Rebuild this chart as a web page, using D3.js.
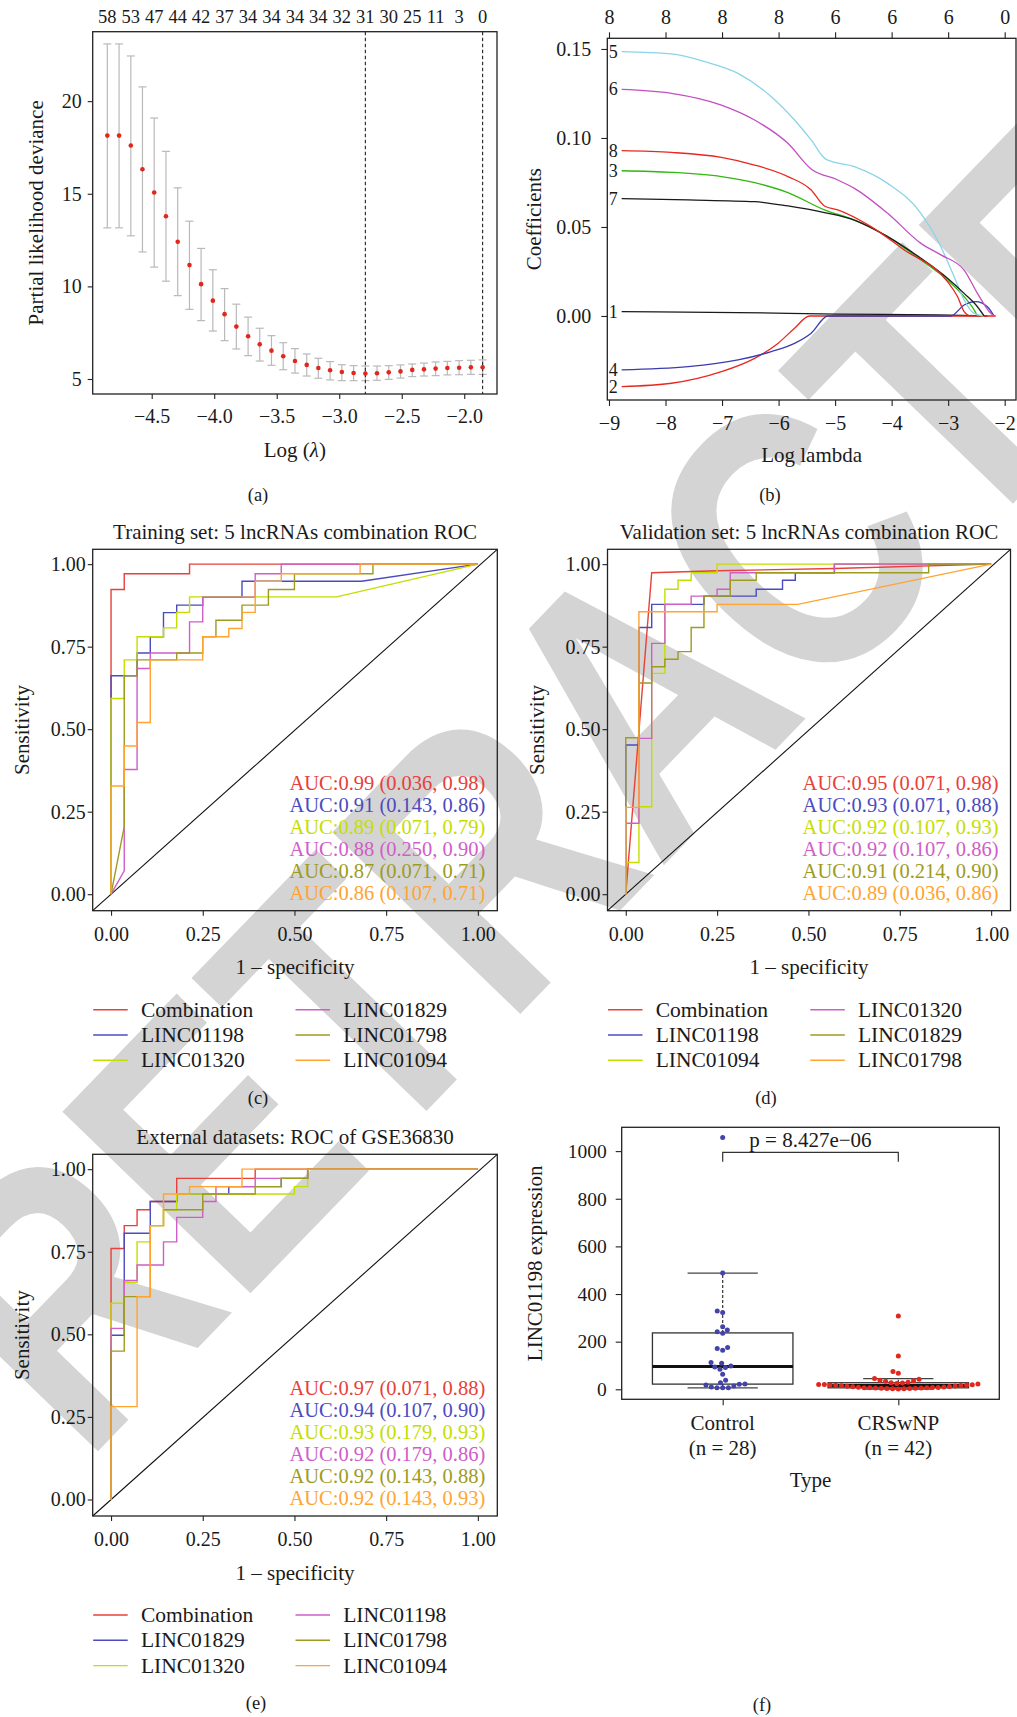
<!DOCTYPE html>
<html>
<head>
<meta charset="utf-8">
<script src="https://cdn.jsdelivr.net/npm/d3@7"></script>
<style>
body { margin: 0; background: #fff; }
text { font-family: "Liberation Serif", "Times New Roman", serif; }
</style>
</head>
<body>
<svg id="fig" width="1017" height="1717"></svg>
<script>
// ---------- (a) cross-validation curve
var cvLogLambda = [-4.855,-4.761,-4.667,-4.574,-4.480,-4.386,-4.292,-4.198,-4.105,-4.011,-3.917,-3.823,-3.729,-3.636,-3.542,-3.448,-3.354,-3.260,-3.167,-3.073,-2.979,-2.885,-2.791,-2.698,-2.604,-2.510,-2.416,-2.322,-2.229,-2.135,-2.041,-1.947,-1.853];
var cvMean  = [18.14,18.14,17.61,16.32,15.07,13.79,12.41,11.15,10.12,9.23,8.50,7.83,7.31,6.87,6.53,6.23,5.97,5.76,5.59,5.47,5.38,5.32,5.30,5.31,5.36,5.41,5.49,5.52,5.56,5.59,5.61,5.63,5.63];
var cvUpper = [23.09,23.09,22.44,20.77,19.09,17.29,15.32,13.52,12.05,10.90,9.88,9.04,8.34,7.74,7.34,6.96,6.64,6.35,6.12,5.94,5.77,5.72,5.70,5.70,5.72,5.76,5.81,5.86,5.92,5.95,5.99,6.01,6.03];
var cvLower = [13.16,13.16,12.73,11.86,11.04,10.28,9.50,8.76,8.15,7.59,7.07,6.62,6.26,5.97,5.74,5.50,5.32,5.16,5.04,4.95,4.91,4.91,4.91,4.93,4.98,5.05,5.13,5.16,5.18,5.22,5.23,5.25,5.25];
var cvNonzero = [58,53,47,44,42,37,34,34,34,34,32,31,30,25,11,3,0]; // every second lambda
var lambdaMin = -2.791, lambda1se = -1.853;

// ---------- (b) lasso coefficient paths  [log lambda, coefficient]
var path1 = [[-8.776,0.0024],[-6.718,0.0019],[-4.953,0.0011],[-3.188,0.0006],[-2.306,0]];
var path2 = [[-8.776,-0.0397],[-7.894,-0.0378],[-7.012,-0.0313],[-6.424,-0.0238],[-6.012,-0.0154],[-5.718,-0.0069],[-5.453,0],[-2.159,0]];
var path3 = [[-8.776,0.0816],[-7.894,0.0807],[-7.012,0.0783],[-6.424,0.0749],[-5.835,0.0693],[-5.188,0.0596],[-4.659,0.0539],[-4.071,0.0446],[-3.482,0.0315],[-3.012,0.0202],[-2.718,0.0109],[-2.541,0.0034],[-2.482,0]];
var path4 = [[-8.776,-0.0303],[-7.6,-0.0285],[-6.718,-0.0247],[-6.129,-0.0200],[-5.718,-0.0154],[-5.424,-0.0097],[-5.129,0],[-2.953,0],[-2.718,0.0062],[-2.512,0.0081],[-2.306,0.0052],[-2.188,0]];
var path5 = [[-8.776,0.1485],[-7.894,0.1472],[-7.306,0.1429],[-6.718,0.1363],[-6.129,0.1232],[-5.718,0.1101],[-5.424,0.0989],[-5.159,0.0880],[-4.659,0.0839],[-4.071,0.0745],[-3.482,0.0577],[-3.188,0.0427],[-2.894,0.0221],[-2.718,0.0090],[-2.541,0.0015],[-2.365,0]];
var path6 = [[-8.776,0.1273],[-7.894,0.1251],[-7.012,0.1185],[-6.424,0.1101],[-5.835,0.0970],[-5.424,0.0826],[-4.953,0.0764],[-4.659,0.0717],[-4.071,0.0577],[-3.482,0.0408],[-3.129,0.0343],[-2.718,0.0258],[-2.482,0.0127],[-2.247,0.0015],[-2.188,0]];
var path7 = [[-8.776,0.0659],[-7.6,0.0652],[-6.424,0.0642],[-5.835,0.0618],[-5.188,0.0581],[-4.659,0.0539],[-4.071,0.0446],[-3.482,0.0324],[-3.012,0.0212],[-2.718,0.0127],[-2.482,0.0052],[-2.365,0]];
var path8 = [[-8.776,0.0929],[-7.894,0.0919],[-7.012,0.0891],[-6.424,0.0848],[-5.835,0.0783],[-5.424,0.0708],[-5.188,0.0618],[-4.953,0.0596],[-4.365,0.0502],[-3.776,0.0371],[-3.012,0.0193],[-2.835,0.0109],[-2.718,0.0024],[-2.629,0]];
var coefPaths = [path1, path2, path3, path4, path5, path6, path7, path8];
var coefNames = ["1","2","3","4","5","6","7","8"];
var coefColors = ["#1a1a1a","#e8281e","#2fb80f","#3b3bb0","#8ad4e8","#c24fc0","#1a1a1a","#e8281e"];
var bTopLabels = ["8","8","8","8","6","6","6","0"];

// ---------- ROC panels  [1 - specificity, sensitivity]
var rocColors = ["#e8403a","#4b4bbf","#c4de00","#d05ec8","#9e9b1e","#ffa431"];

var trainNames = ["Combination","LINC01198","LINC01320","LINC01829","LINC01798","LINC01094"];
var trainAuc = ["AUC:0.99 (0.036, 0.98)","AUC:0.91 (0.143, 0.86)","AUC:0.89 (0.071, 0.79)","AUC:0.88 (0.250, 0.90)","AUC:0.87 (0.071, 0.71)","AUC:0.86 (0.107, 0.71)"];
var trainRoc = [
  [[0,0],[0,0.923],[0.036,0.923],[0.036,0.971],[0.214,0.971],[0.214,1],[1,1]],
  [[0,0],[0,0.662],[0.071,0.662],[0.071,0.731],[0.107,0.731],[0.107,0.78],[0.143,0.78],[0.143,0.853],[0.179,0.853],[0.179,0.876],[0.25,0.876],[0.25,0.9],[0.357,0.9],[0.357,0.948],[0.683,0.948],[1,1]],
  [[0,0],[0,0.593],[0.036,0.593],[0.036,0.71],[0.071,0.71],[0.071,0.78],[0.143,0.78],[0.143,0.807],[0.179,0.807],[0.179,0.854],[0.214,0.854],[0.214,0.901],[0.615,0.901],[1,1]],
  [[0,0],[0.036,0.071],[0.036,0.378],[0.071,0.378],[0.071,0.684],[0.107,0.684],[0.107,0.731],[0.214,0.731],[0.214,0.825],[0.25,0.825],[0.25,0.9],[0.393,0.9],[0.393,0.971],[0.464,0.971],[0.464,1],[1,1]],
  [[0,0],[0.036,0.205],[0.036,0.662],[0.071,0.662],[0.071,0.71],[0.179,0.71],[0.179,0.731],[0.25,0.731],[0.25,0.78],[0.286,0.78],[0.286,0.83],[0.357,0.83],[0.357,0.876],[0.429,0.876],[0.429,0.923],[0.5,0.923],[0.5,0.971],[0.714,0.971],[0.714,1],[1,1]],
  [[0,0],[0,0.328],[0.036,0.328],[0.036,0.449],[0.071,0.449],[0.071,0.52],[0.107,0.52],[0.107,0.71],[0.25,0.71],[0.25,0.78],[0.321,0.78],[0.321,0.805],[0.357,0.805],[0.357,0.854],[0.393,0.854],[0.393,0.948],[0.464,0.948],[0.464,0.971],[0.679,0.971],[0.679,1],[1,1]]
];

var validNames = ["Combination","LINC01198","LINC01094","LINC01320","LINC01829","LINC01798"];
var validAuc = ["AUC:0.95 (0.071, 0.98)","AUC:0.93 (0.071, 0.88)","AUC:0.92 (0.107, 0.93)","AUC:0.92 (0.107, 0.86)","AUC:0.91 (0.214, 0.90)","AUC:0.89 (0.036, 0.86)"];
var validRoc = [
  [[0,0],[0.071,0.974],[0.25,0.98],[0.571,0.987],[1,1]],
  [[0,0],[0,0.452],[0.036,0.452],[0.036,0.808],[0.071,0.808],[0.071,0.878],[0.214,0.878],[0.214,0.903],[0.357,0.903],[0.357,0.924],[0.429,0.924],[0.429,0.951],[0.464,0.951],[0.464,0.974],[0.571,0.974],[0.571,1],[1,1]],
  [[0,0],[0,0.096],[0.036,0.096],[0.036,0.265],[0.071,0.265],[0.071,0.669],[0.107,0.669],[0.107,0.924],[0.143,0.924],[0.143,0.951],[0.179,0.951],[0.179,0.974],[0.25,0.974],[0.25,1],[1,1]],
  [[0,0],[0,0.215],[0.036,0.215],[0.036,0.472],[0.071,0.472],[0.071,0.76],[0.107,0.76],[0.107,0.878],[0.179,0.878],[0.179,0.903],[0.25,0.903],[0.25,0.924],[0.286,0.924],[0.286,0.974],[0.571,0.974],[0.571,1],[1,1]],
  [[0,0],[0,0.474],[0.036,0.474],[0.036,0.64],[0.071,0.64],[0.071,0.689],[0.107,0.689],[0.107,0.712],[0.143,0.712],[0.143,0.735],[0.179,0.735],[0.179,0.808],[0.214,0.808],[0.214,0.903],[0.286,0.903],[0.286,0.951],[0.357,0.951],[0.357,0.974],[0.829,0.974],[0.829,1],[1,1]],
  [[0,0],[0,0.263],[0.036,0.263],[0.036,0.856],[0.25,0.856],[0.25,0.878],[0.471,0.878],[1,1]]
];

var extNames = ["Combination","LINC01829","LINC01320","LINC01198","LINC01798","LINC01094"];
var extAuc = ["AUC:0.97 (0.071, 0.88)","AUC:0.94 (0.107, 0.90)","AUC:0.93 (0.179, 0.93)","AUC:0.92 (0.179, 0.86)","AUC:0.92 (0.143, 0.88)","AUC:0.92 (0.143, 0.93)"];
var extRoc = [
  [[0,0],[0,0.76],[0.036,0.76],[0.036,0.829],[0.071,0.829],[0.071,0.877],[0.107,0.877],[0.107,0.902],[0.179,0.902],[0.179,0.972],[0.393,0.972],[0.393,1],[1,1]],
  [[0,0],[0,0.497],[0.036,0.497],[0.036,0.806],[0.107,0.806],[0.107,0.902],[0.179,0.902],[0.179,0.925],[0.321,0.925],[0.321,0.947],[0.464,0.947],[0.464,0.972],[0.536,0.972],[0.536,1],[1,1]],
  [[0,0],[0,0.594],[0.036,0.594],[0.036,0.657],[0.071,0.657],[0.071,0.78],[0.107,0.78],[0.107,0.829],[0.143,0.829],[0.143,0.877],[0.179,0.877],[0.179,0.925],[0.5,0.925],[0.5,0.947],[0.536,0.947],[0.536,1],[1,1]],
  [[0,0],[0,0.518],[0.036,0.518],[0.036,0.663],[0.071,0.663],[0.071,0.71],[0.143,0.71],[0.143,0.78],[0.179,0.78],[0.179,0.854],[0.25,0.854],[0.25,0.902],[0.286,0.902],[0.286,0.947],[0.393,0.947],[0.393,0.972],[0.536,0.972],[0.536,1],[1,1]],
  [[0,0],[0,0.449],[0.036,0.449],[0.036,0.614],[0.107,0.614],[0.107,0.829],[0.143,0.829],[0.143,0.877],[0.25,0.877],[0.25,0.925],[0.393,0.925],[0.393,0.947],[0.464,0.947],[0.464,0.972],[0.536,0.972],[0.536,1],[1,1]],
  [[0,0],[0,0.281],[0.071,0.281],[0.071,0.614],[0.107,0.614],[0.107,0.829],[0.143,0.829],[0.143,0.925],[0.214,0.925],[0.214,0.947],[0.357,0.947],[0.357,1],[1,1]]
];
var rocTicks = [0, 0.25, 0.5, 0.75, 1];

// ---------- (f) expression
var groups = ["Control","CRSwNP"];
var groupN = ["(n = 28)","(n = 42)"];
var controlExpr = [1057,488,329,322,263,249,242,235,176,171,164,112,109,98,94,91,84,63,38,28,22,21,18,14,10,7,7,6];
var crswnpExpr = [308,140,75,67,45,42,38,36,34,30,28,26,24,22,20,20,19,18,18,17,16,15,14,13,12,11,10,9,8,8,7,6,6,5,5,4,4,3,3,2,2,1];
var groupColors = ["#4444a8","#e0281e"];
var pLabel = "p = 8.427e\u221206";

var svg = d3.select("#fig");
var FS = 20;     // tick labels
var TS = 21;     // titles

// watermark behind everything
svg.append("text")
    .attr("transform", "translate(640,700) rotate(-46) scale(0.8,1)")
    .attr("text-anchor", "middle")
    .attr("dominant-baseline", "central")
    .style("font-family", "Liberation Sans, Arial, sans-serif")
    .style("font-weight", "bold")
    .style("font-size", "380px")
    .style("fill", "#d4d4d4")
    .text("RETRACTED");

function styleAxis(g, size) {
    g.select(".domain").remove();
    g.attr("font-family", null).attr("font-size", null);
    g.selectAll(".tick line").attr("stroke", "#222").attr("stroke-width", 1.1);
    g.selectAll(".tick text").attr("fill", "#1a1a1a")
        .style("font-size", size + "px");
}

function frame(g, o) {
    g.append("rect").attr("x", o.l).attr("y", o.t)
        .attr("width", o.r - o.l).attr("height", o.b - o.t)
        .attr("fill", "none").attr("stroke", "#222").attr("stroke-width", 1.3);
}

function label(x, y, txt, size, rot) {
    var t = svg.append("text")
        .attr("text-anchor", "middle")
        .attr("dominant-baseline", "central")
        .style("font-size", (size || TS) + "px")
        .attr("fill", "#1a1a1a");
    if (rot) t.attr("transform", `translate(${x},${y}) rotate(-90)`);
    else t.attr("x", x).attr("y", y);
    t.text(txt);
    return t;
}

// ================= (a)
var A = {l: 92.7, r: 497, t: 31.7, b: 394};
var ax = d3.scaleLinear().domain([-4.972, -1.738]).range([A.l, A.r]);
var ay = d3.scaleLinear().domain([4.19, 23.75]).range([A.b, A.t]);
var pa = svg.append("g");

pa.append("g").attr("transform", `translate(0,${A.b})`)
    .call(d3.axisBottom(ax).tickValues([-4.5, -4, -3.5, -3, -2.5, -2])
        .tickFormat(d3.format(".1f")).tickSize(5).tickPadding(10))
    .call(styleAxis, FS);
pa.append("g").attr("transform", `translate(${A.l},0)`)
    .call(d3.axisLeft(ay).tickValues([5, 10, 15, 20]).tickSize(5).tickPadding(6))
    .call(styleAxis, FS);

pa.selectAll("line.err").data(cvLogLambda).enter().append("line")
    .attr("x1", d => ax(d)).attr("x2", d => ax(d))
    .attr("y1", (d, i) => ay(cvLower[i])).attr("y2", (d, i) => ay(cvUpper[i]))
    .attr("stroke", "#b9b9b9").attr("stroke-width", 1.2);
[cvLower, cvUpper].forEach(function(arr) {
    pa.selectAll(null).data(cvLogLambda).enter().append("line")
        .attr("x1", d => ax(d) - 4).attr("x2", d => ax(d) + 4)
        .attr("y1", (d, i) => ay(arr[i])).attr("y2", (d, i) => ay(arr[i]))
        .attr("stroke", "#b9b9b9").attr("stroke-width", 1.2);
});
[lambdaMin, lambda1se].forEach(function(v) {
    pa.append("line").attr("x1", ax(v)).attr("x2", ax(v))
        .attr("y1", A.t).attr("y2", A.b)
        .attr("stroke", "#222").attr("stroke-width", 1.1).attr("stroke-dasharray", "3.5,2.5");
});
pa.selectAll("circle").data(cvLogLambda).enter().append("circle")
    .attr("cx", d => ax(d)).attr("cy", (d, i) => ay(cvMean[i]))
    .attr("r", 2.3).attr("fill", "#e3261c");
pa.selectAll("text.top").data(cvNonzero).enter().append("text")
    .attr("x", (d, i) => ax(cvLogLambda[i * 2])).attr("y", 17)
    .attr("text-anchor", "middle").attr("dominant-baseline", "central")
    .style("font-size", "18.5px").attr("fill", "#1a1a1a")
    .text(d => d);
frame(pa, A);
label(36, (A.t + A.b) / 2, "Partial likelihood deviance", TS, true);
var la = label((A.l + A.r) / 2, 450, "Log (", TS);
la.append("tspan").style("font-style", "italic").text("\u03bb");
la.append("tspan").text(")");
label(258, 495, "(a)", 18.5);

// ================= (b)
var B = {l: 607.3, r: 1016, t: 38.3, b: 400};
var bx = d3.scaleLinear().domain([-9.03, -1.8]).range([B.l, B.r]);
var by = d3.scaleLinear().domain([-0.0472, 0.156]).range([B.b, B.t]);
var pb = svg.append("g");
var bTicks = [-9, -8, -7, -6, -5, -4, -3, -2];
pb.append("g").attr("transform", `translate(0,${B.b})`)
    .call(d3.axisBottom(bx).tickValues(bTicks).tickFormat(d3.format("d")).tickSize(6).tickPadding(10))
    .call(styleAxis, FS);
pb.append("g").attr("transform", `translate(0,${B.t})`)
    .call(d3.axisTop(bx).tickValues(bTicks).tickFormat((d, i) => bTopLabels[i]).tickSize(6).tickPadding(8))
    .call(styleAxis, FS);
pb.append("g").attr("transform", `translate(${B.l},0)`)
    .call(d3.axisLeft(by).tickValues([0, 0.05, 0.1, 0.15]).tickFormat(d3.format(".2f")).tickSize(6).tickPadding(10))
    .call(styleAxis, FS);

var coefLine = d3.line().x(d => bx(d[0])).y(d => by(d[1])).curve(d3.curveMonotoneX);
pb.selectAll("path.coef").data(coefPaths).enter().append("path")
    .attr("d", coefLine).attr("fill", "none")
    .attr("stroke", (d, i) => coefColors[i]).attr("stroke-width", 1.3);
pb.selectAll("text.lab").data(coefPaths).enter().append("text")
    .attr("x", B.l + 6).attr("y", d => by(d[0][1]))
    .attr("text-anchor", "middle").attr("dominant-baseline", "central")
    .style("font-size", "18px").attr("fill", "#1a1a1a")
    .text((d, i) => coefNames[i]);
frame(pb, B);
label(534, (B.t + B.b) / 2, "Coefficients", TS, true);
label((B.l + B.r) / 2, 455, "Log lambda", TS);
label(770, 495, "(b)", 18.5);

// ================= ROC panels
function rocPanel(o) {
    var x = d3.scaleLinear().domain([-0.05, 1.053]).range([o.l, o.r]);
    var y = d3.scaleLinear().domain([-0.05, 1.045]).range([o.b, o.t]);
    var g = svg.append("g");
    g.append("g").attr("transform", `translate(0,${o.b})`)
        .call(d3.axisBottom(x).tickValues(rocTicks).tickFormat(d3.format(".2f")).tickSize(5).tickPadding(11))
        .call(styleAxis, FS);
    g.append("g").attr("transform", `translate(${o.l},0)`)
        .call(d3.axisLeft(y).tickValues(rocTicks).tickFormat(d3.format(".2f")).tickSize(5).tickPadding(2))
        .call(styleAxis, FS);
    g.append("line")
        .attr("x1", x(-0.05)).attr("y1", y(-0.05))
        .attr("x2", x(1.053)).attr("y2", y(1.045))
        .attr("stroke", "#111").attr("stroke-width", 1.1);
    var line = d3.line().x(d => x(d[0])).y(d => y(d[1]));
    g.selectAll("path.roc").data(o.roc).enter().append("path")
        .attr("d", line).attr("fill", "none")
        .attr("stroke", (d, i) => rocColors[i]).attr("stroke-width", 1.4);
    frame(g, o);
    g.selectAll("text.auc").data(o.auc).enter().append("text")
        .attr("x", o.r - 12).attr("y", (d, i) => o.t + 233.4 + i * 22)
        .attr("text-anchor", "end").attr("dominant-baseline", "central")
        .style("font-size", "20.5px")
        .attr("fill", (d, i) => rocColors[i])
        .text(d => d);
    label((o.l + o.r) / 2, o.t - 17, o.title, TS);
    label(o.l - 71, (o.t + o.b) / 2, "Sensitivity", TS, true);
    label((o.l + o.r) / 2, o.b + 56.5, "1 \u2013 specificity", TS);
    var leg = g.selectAll("g.leg").data(o.names).enter().append("g")
        .attr("transform", (d, i) => `translate(${o.l + 0.5 + Math.floor(i / 3) * 202.3},${o.b + 99 + (i % 3) * 25.3})`);
    leg.append("line").attr("x1", 0).attr("x2", 34.5)
        .attr("stroke", (d, i) => rocColors[i]).attr("stroke-width", 1.4);
    leg.append("text").attr("x", 47.7).attr("dominant-baseline", "central")
        .style("font-size", "21.5px").attr("fill", "#1a1a1a").text(d => d);
    label(o.labX, o.b + 187, o.panel, 18.5);
}

rocPanel({l: 92.7, r: 497.3, t: 549.3, b: 910.7, roc: trainRoc, auc: trainAuc, names: trainNames,
    title: "Training set: 5 lncRNAs combination ROC", panel: "(c)", labX: 258});
rocPanel({l: 607.5, r: 1010.5, t: 549.3, b: 910.7, roc: validRoc, auc: validAuc, names: validNames,
    title: "Validation set: 5 lncRNAs combination ROC", panel: "(d)", labX: 766});
rocPanel({l: 92.7, r: 497.3, t: 1154.3, b: 1516, roc: extRoc, auc: extAuc, names: extNames,
    title: "External datasets: ROC of GSE36830", panel: "(e)", labX: 256});

// ================= (f)
var F = {l: 621.7, r: 999.3, t: 1127.3, b: 1399.3};
var fx = d3.scaleLinear().domain([-0.575, 1.575]).range([F.l, F.r]);
var fy = d3.scaleLinear().domain([-42, 1100]).range([F.b, F.t]);
var pf = svg.append("g");
pf.append("g").attr("transform", `translate(${F.l},0)`)
    .call(d3.axisLeft(fy).tickValues([0, 200, 400, 600, 800, 1000]).tickFormat(d3.format("d")).tickSize(6).tickPadding(9))
    .call(styleAxis, 19.5);
pf.append("g").attr("transform", `translate(0,${F.b})`)
    .call(d3.axisBottom(fx).tickValues([0, 1]).tickFormat("").tickSize(6))
    .call(styleAxis, FS);

var exprs = [controlExpr, crswnpExpr];
exprs.forEach(function(vals, gi) {
    var s = vals.slice().sort(d3.ascending);
    var q1 = d3.quantile(s, 0.25), med = d3.quantile(s, 0.5), q3 = d3.quantile(s, 0.75);
    var fence = q3 + 1.5 * (q3 - q1), lowFence = q1 - 1.5 * (q3 - q1);
    var hi = d3.max(s.filter(v => v <= fence)), lo = d3.min(s.filter(v => v >= lowFence));
    var cx = fx(gi), hw = fx(gi + 0.4) - cx, cw = fx(gi + 0.2) - cx;
    pf.append("line").attr("x1", cx).attr("x2", cx).attr("y1", fy(q3)).attr("y2", fy(hi))
        .attr("stroke", "#333").attr("stroke-width", 1.2).attr("stroke-dasharray", "3,2");
    pf.append("line").attr("x1", cx).attr("x2", cx).attr("y1", fy(q1)).attr("y2", fy(lo))
        .attr("stroke", "#333").attr("stroke-width", 1.2).attr("stroke-dasharray", "3,2");
    [hi, lo].forEach(function(v) {
        pf.append("line").attr("x1", cx - cw).attr("x2", cx + cw).attr("y1", fy(v)).attr("y2", fy(v))
            .attr("stroke", "#444").attr("stroke-width", 1.3);
    });
    pf.append("rect").attr("x", cx - hw).attr("y", fy(q3))
        .attr("width", 2 * hw).attr("height", fy(q1) - fy(q3))
        .attr("fill", "none").attr("stroke", "#333").attr("stroke-width", 1.3);
    pf.append("line").attr("x1", cx - hw).attr("x2", cx + hw).attr("y1", fy(med)).attr("y2", fy(med))
        .attr("stroke", "#111").attr("stroke-width", 3);

    // beeswarm layout: each point takes the free offset nearest the centre
    var d = 5.7, placed = [];
    s.forEach(function(v) {
        var py = fy(v), cands = [0], blocks = [];
        placed.forEach(function(p) {
            var dy = Math.abs(p.y - py);
            if (dy < d) {
                var w = Math.sqrt(d * d - dy * dy);
                blocks.push([p.x - w, p.x + w]);
                cands.push(p.x - w, p.x + w);
            }
        });
        cands.sort((a, b) => Math.abs(a) - Math.abs(b));
        var off = cands.find(c => blocks.every(bk => c <= bk[0] + 1e-6 || c >= bk[1] - 1e-6));
        placed.push({x: off, y: py});
    });
    pf.selectAll(null).data(placed).enter().append("circle")
        .attr("cx", p => cx + p.x).attr("cy", p => p.y)
        .attr("r", 2.5).attr("fill", groupColors[gi]);

    label(cx, F.b + 23.7, groups[gi], TS);
    label(cx, F.b + 48.7, groupN[gi], TS);
});

// significance bracket
pf.append("path")
    .attr("d", `M${fx(0)},${fy(955)}V${fy(995)}H${fx(1)}V${fy(955)}`)
    .attr("fill", "none").attr("stroke", "#333").attr("stroke-width", 1.2);
label((fx(0) + fx(1)) / 2, fy(995) - 12, pLabel, TS);
frame(pf, F);
label(535, (F.t + F.b) / 2, "LINC01198 expression", TS, true);
label((F.l + F.r) / 2, F.b + 80.7, "Type", TS);
label(762, 1705, "(f)", 18.5);
</script>
</body>
</html>
